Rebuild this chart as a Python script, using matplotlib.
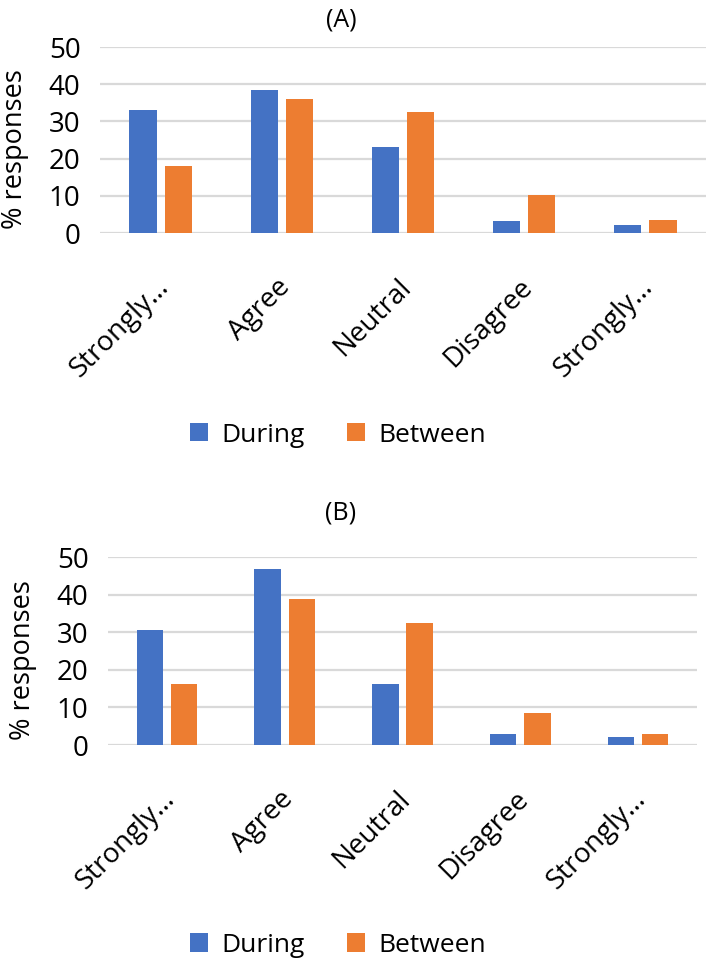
import matplotlib
matplotlib.use("Agg")
import matplotlib.pyplot as plt
import matplotlib.transforms as mtransforms
import numpy as np

plt.rcParams['font.family'] = ['Open Sans', 'DejaVu Sans']

categories = ["Strongly…", "Agree", "Neutral", "Disagree", "Strongly…"]
series_names = ["During", "Between"]
a_during = [33.0, 38.4, 23.1, 3.1, 2.1]
a_between = [18.0, 36.1, 32.5, 10.1, 3.4]
b_during = [30.5, 46.9, 16.2, 3.0, 2.0]
b_between = [16.2, 38.9, 32.4, 8.5, 3.0]
yticks = [0, 10, 20, 30, 40, 50]

BLUE = "#4472C4"
ORANGE = "#ED7D31"
GRID = "#D9D9D9"

W, H = 709, 963
fig = plt.figure(figsize=(W / 100, H / 100), dpi=100)


def px_axes(left, right, top, bottom):
    return fig.add_axes([left / W, 1 - bottom / H, (right - left) / W, (bottom - top) / H])


def draw_panel(ax, during, between, title, title_y, legend_y, ylab_x):
    x = np.arange(len(categories))
    bw = 0.225
    off = 0.145
    ax.bar(x - off, during, bw, color=BLUE, label=series_names[0], zorder=3)
    ax.bar(x + off, between, bw, color=ORANGE, label=series_names[1], zorder=3)
    ax.set_xlim(-0.5, len(categories) - 0.5)
    ax.set_ylim(0, 50)
    ax.set_yticks(yticks)
    ax.set_yticklabels([str(t) for t in yticks], fontsize=20)
    ax.yaxis.grid(True, color=GRID, linewidth=1.6, zorder=0)
    ax.set_axisbelow(True)
    for s in ax.spines.values():
        s.set_visible(False)
    ax.tick_params(axis='both', length=0)
    ax.tick_params(axis='y', pad=14)
    ax.set_xticks(x)
    ax.set_xticklabels(categories, rotation=45, ha='right', va='top',
                       rotation_mode='anchor', fontsize=20)
    ax.tick_params(axis='x', pad=29)
    shift = mtransforms.ScaledTranslation(-6 / 100, 0, fig.dpi_scale_trans)
    for lbl in ax.get_xticklabels():
        lbl.set_transform(lbl.get_transform() + shift)
    ax.set_ylabel("% responses", fontsize=19.5)
    ax.yaxis.label.set_verticalalignment('center')
    ax.yaxis.set_label_coords(ylab_x, 0.45)
    fig.text(341 / W, 1 - title_y / H, title, ha='center', va='center', fontsize=18)
    fig.legend(*ax.get_legend_handles_labels(), loc='center',
               bbox_to_anchor=(338 / W, 1 - legend_y / H), ncol=2, frameon=False,
               fontsize=19, handlelength=0.7, handleheight=0.7,
               columnspacing=1.6, handletextpad=0.5, borderaxespad=0, borderpad=0)


axA = px_axes(100, 706, 47, 233)
draw_panel(axA, a_during, a_between, "(A)", 20, 435, -0.140)
axB = px_axes(108, 697, 557, 745)
draw_panel(axB, b_during, b_between, "(B)", 513, 945, -0.144)

fig.savefig("out.png", dpi=100)
